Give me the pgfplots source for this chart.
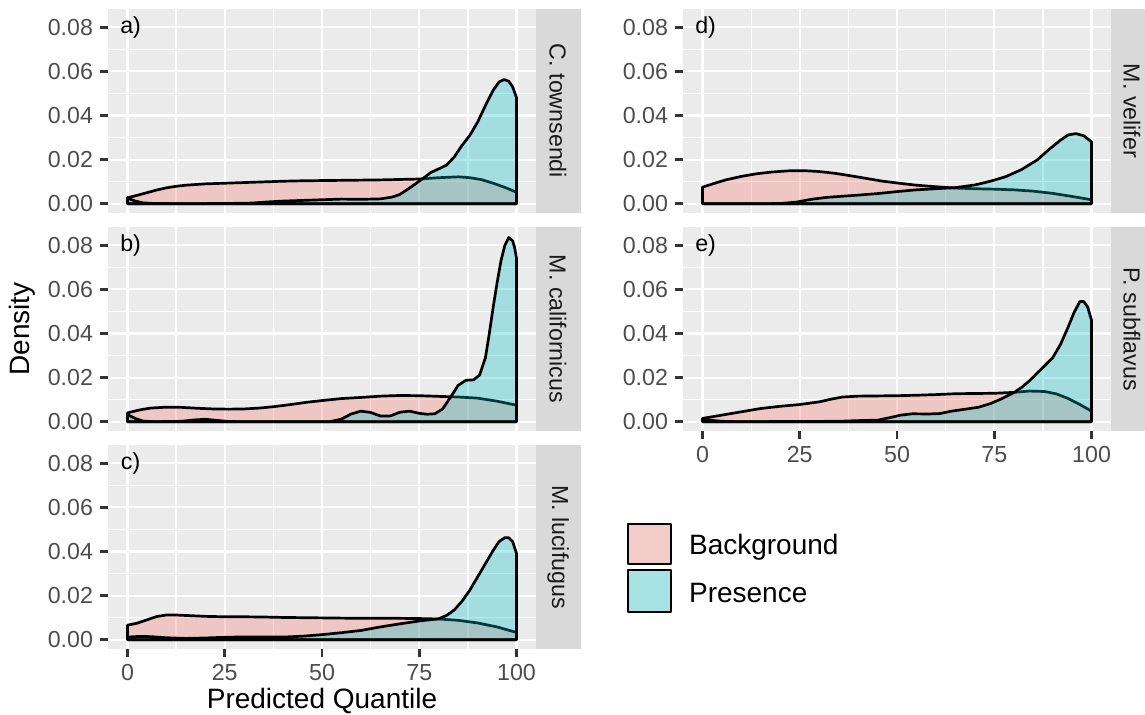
\documentclass[border=0pt]{standalone}
\usepackage{pgfplots}
\pgfplotsset{compat=1.18}
\usepackage{fontspec}
\setmainfont{Liberation Sans}

\definecolor{panelbg}{HTML}{EBEBEB}
\definecolor{stripbg}{HTML}{D9D9D9}
\definecolor{striptxt}{HTML}{1A1A1A}
\definecolor{ticklab}{HTML}{4D4D4D}
\definecolor{tickcol}{HTML}{333333}
\definecolor{keybg}{HTML}{F2F2F2}
\definecolor{bgfill}{HTML}{F8766D}
\definecolor{prfill}{HTML}{00BFC4}

\newcommand{\tickfont}{\fontsize{11.6}{13}\selectfont}
\newcommand{\titlefont}{\fontsize{14}{16}\selectfont}

\tikzset{
  bg/.style={draw=black, line width=1.35pt, line join=round, fill=bgfill, fill opacity=0.3},
  pr/.style={draw=black, line width=1.35pt, line join=round, fill=prfill, fill opacity=0.3},
}

\pgfplotsset{
  panel/.style={
    scale only axis, width=214pt, height=102pt, anchor=south west,
    xmin=-5, xmax=105, ymin=-0.0042, ymax=0.0883,
    axis background/.style={fill=panelbg},
    axis line style={draw=none},
    xtick={0,25,50,75,100}, minor xtick={12.5,37.5,62.5,87.5},
    ytick={0,0.02,0.04,0.06,0.08}, minor ytick={0.01,0.03,0.05,0.07},
    grid=both,
    major grid style={white, line width=1.1pt},
    minor grid style={white, line width=0.6pt},
    tick pos=left, tick align=outside,
    major tick length=4pt, minor tick length=0pt,
    every tick/.style={tickcol, line width=1.3pt},
    tick label style={color=ticklab, font=\tickfont},
    yticklabel style={/pgf/number format/.cd, fixed, fixed zerofill, precision=2, assume math mode=true},
    xticklabel style={/pgf/number format/assume math mode=true},
    scaled y ticks=false,
  },
  noxaxis/.style={xmajorticks=false, xticklabels={}},
}

\begin{document}
\begin{tikzpicture}
\useasboundingbox (0,0) rectangle (572.5pt,357.5pt);

% a) C. townsendi
\begin{axis}[panel, noxaxis, at={(54pt,251pt)}]
  \addplot[bg] coordinates {
    (0,0)(0,0.0027)(2.5,0.0038)(5,0.005)(7.5,0.0062)(10,0.0072)(12.5,0.0079)(15,0.0084)
    (20,0.009)(25,0.0093)(30,0.0096)(35,0.0099)(40,0.0102)(45,0.0104)(50,0.0105)(55,0.0106)
    (60,0.0107)(65,0.0108)(70,0.011)(75,0.0112)(80,0.0118)(85,0.0122)(88,0.0118)(91,0.0109)
    (94,0.0093)(97,0.0074)(100,0.0052)(100,0)
  } \closedcycle;
  \addplot[pr] coordinates {
    (0,0)(0,0.0025)(2,0.0012)(4,0.0004)(7,0.0001)(15,0)(25,0.0001)(32,0.0003)(36,0.0008)
    (40,0.0012)(45,0.0015)(50,0.0018)(55,0.0021)(60,0.002)(65,0.0022)(68,0.003)(70,0.0042)
    (72,0.0065)(74,0.009)(76,0.0115)(78,0.0142)(80,0.0158)(82,0.0175)(84,0.0212)(86,0.0265)
    (88,0.031)(90,0.037)(92,0.0445)(94,0.0515)(95.5,0.0552)(96.8,0.0563)(98,0.0555)(99,0.053)
    (100,0.048)(100,0)
  } \closedcycle;
  \node[font=\tickfont] at (axis cs:0.8,0.08) {a)};
\end{axis}

% b) M. californicus
\begin{axis}[panel, noxaxis, at={(54pt,142pt)}]
  \addplot[bg] coordinates {
    (0,0)(0,0.004)(3,0.0053)(6,0.0062)(10,0.0066)(14,0.0065)(18,0.0061)(22,0.0058)(26,0.0057)
    (30,0.0058)(34,0.0062)(38,0.0069)(42,0.0078)(46,0.0088)(50,0.0096)(55,0.0105)(60,0.011)
    (65,0.0116)(70,0.0119)(75,0.0118)(80,0.0115)(85,0.0112)(90,0.0107)(95,0.0093)(100,0.0075)(100,0)
  } \closedcycle;
  \addplot[pr] coordinates {
    (0,0)(0,0.0032)(2,0.0015)(4,0.0003)(7,0)(14,0.0002)(17,0.0008)(20,0.0011)(23,0.0006)
    (26,0.0001)(30,0)(52,0)(55,0.0012)(57.5,0.0035)(60,0.0048)(62.5,0.0042)(65,0.0026)
    (67.5,0.0026)(70,0.0043)(72.5,0.0048)(75,0.0038)(77,0.0034)(79,0.0036)(81,0.0058)
    (83,0.011)(85,0.0165)(87,0.0188)(89,0.019)(90.5,0.0212)(92,0.029)(93,0.04)(94,0.052)
    (95,0.063)(96,0.073)(97,0.08)(98,0.0835)(99,0.082)(99.5,0.079)(100,0.074)(100,0)
  } \closedcycle;
  \node[font=\tickfont] at (axis cs:0.8,0.08) {b)};
\end{axis}

% c) M. lucifugus
\begin{axis}[panel, at={(54pt,33pt)}]
  \addplot[bg] coordinates {
    (0,0)(0,0.0066)(2.5,0.0075)(5,0.009)(7.5,0.0105)(10,0.0112)(12.5,0.0112)(15,0.011)
    (20,0.0106)(25,0.0104)(30,0.0104)(35,0.0103)(40,0.0101)(45,0.01)(50,0.0099)(55,0.0098)
    (60,0.0097)(65,0.0097)(70,0.0097)(75,0.0096)(80,0.0094)(85,0.0088)(90,0.0076)(95,0.0058)
    (100,0.0033)(100,0)
  } \closedcycle;
  \addplot[pr] coordinates {
    (0,0)(0,0.0012)(3,0.0015)(6,0.0014)(10,0.0009)(15,0.0006)(20,0.0008)(25,0.0011)(30,0.0013)
    (35,0.0012)(40,0.0012)(45,0.0016)(50,0.0023)(55,0.0032)(60,0.0042)(65,0.0058)(70,0.0072)
    (75,0.0085)(78,0.0091)(80,0.0095)(82,0.011)(84,0.0135)(86,0.0175)(88,0.0225)(90,0.0285)
    (92,0.0345)(94,0.0405)(95.5,0.0445)(97,0.0463)(98,0.0462)(99,0.0445)(100,0.039)(100,0)
  } \closedcycle;
  \node[font=\tickfont] at (axis cs:0.8,0.08) {c)};
\end{axis}

% d) M. velifer
\begin{axis}[panel, noxaxis, at={(341.5pt,251pt)}]
  \addplot[bg] coordinates {
    (0,0)(0,0.0075)(3,0.0092)(6,0.0108)(10,0.0124)(14,0.0136)(18,0.0144)(22,0.0149)(26,0.015)
    (30,0.0146)(34,0.0138)(38,0.0127)(42,0.0115)(46,0.0103)(50,0.0094)(55,0.0084)(60,0.0077)
    (65,0.0071)(70,0.0068)(75,0.0066)(80,0.0063)(85,0.0057)(90,0.0047)(95,0.0033)(100,0.0018)(100,0)
  } \closedcycle;
  \addplot[pr] coordinates {
    (0,0)(15,0)(20,0.0001)(24,0.0007)(28,0.002)(32,0.0029)(36,0.0034)(40,0.0039)(45,0.0046)
    (50,0.0055)(55,0.0063)(60,0.0068)(65,0.0073)(70,0.0085)(74,0.0102)(78,0.0123)(82,0.0155)
    (86,0.0198)(89,0.0245)(92,0.0288)(94,0.0312)(96,0.0318)(98,0.0308)(100,0.028)(100,0)
  } \closedcycle;
  \node[font=\tickfont] at (axis cs:0.8,0.08) {d)};
\end{axis}

% e) P. subflavus
\begin{axis}[panel, at={(341.5pt,142pt)}]
  \addplot[bg] coordinates {
    (0,0)(0,0.0015)(5,0.003)(10,0.0045)(15,0.006)(20,0.007)(25,0.0078)(30,0.009)(33,0.0102)
    (36,0.0112)(40,0.0116)(45,0.0117)(50,0.0118)(55,0.012)(60,0.0123)(65,0.0127)(70,0.0128)
    (75,0.0129)(80,0.0133)(84,0.0139)(88,0.0137)(91,0.0126)(94,0.0105)(97,0.0078)(100,0.0048)(100,0)
  } \closedcycle;
  \addplot[pr] coordinates {
    (0,0)(0,0.0012)(3,0.0005)(6,0.0001)(10,0)(35,0.0002)(40,0.0005)(45,0.0007)(48,0.0018)
    (51,0.003)(54,0.0036)(58,0.0035)(61,0.0037)(64,0.0048)(68,0.0058)(71,0.0066)(74,0.0082)
    (77,0.0105)(80,0.0132)(82,0.0155)(84,0.0185)(86,0.022)(88,0.0255)(90,0.029)(92,0.035)
    (94,0.043)(95.5,0.0495)(97,0.0545)(98,0.0545)(99,0.052)(100,0.046)(100,0)
  } \closedcycle;
  \node[font=\tickfont] at (axis cs:0.8,0.08) {e)};
\end{axis}

% facet strips
\fill[stripbg] (268pt,251pt) rectangle (290.5pt,353pt);
\fill[stripbg] (268pt,142pt) rectangle (290.5pt,244pt);
\fill[stripbg] (268pt,33pt) rectangle (290.5pt,135pt);
\fill[stripbg] (555.5pt,251pt) rectangle (578pt,353pt);
\fill[stripbg] (555.5pt,142pt) rectangle (578pt,244pt);
\begin{scope}[every node/.style={rotate=-90, font=\tickfont, text=striptxt}]
  \node at (279pt,302pt) {C. townsendi};
  \node at (279pt,193pt) {M. californicus};
  \node at (279pt,84pt) {M. lucifugus};
  \node at (566pt,302pt) {M. velifer};
  \node at (566pt,193pt) {P. subflavus};
\end{scope}

% axis titles
\node[rotate=90, font=\titlefont] at (11pt,193pt) {Density};
\node[font=\titlefont] at (161pt,7pt) {Predicted Quantile};

% legend
\fill[keybg] (313.5pt,75pt) rectangle (336pt,96pt);
\fill[keybg] (313.5pt,51pt) rectangle (336pt,73pt);
\filldraw[bg] (314pt,75.5pt) rectangle (335.5pt,95.5pt);
\filldraw[pr] (314pt,51.5pt) rectangle (335.5pt,72.5pt);
\node[font=\titlefont, anchor=base west] at (341pt,80pt) {Background};
\node[font=\titlefont, anchor=base west] at (341pt,56pt) {Presence};
\end{tikzpicture}
\end{document}
